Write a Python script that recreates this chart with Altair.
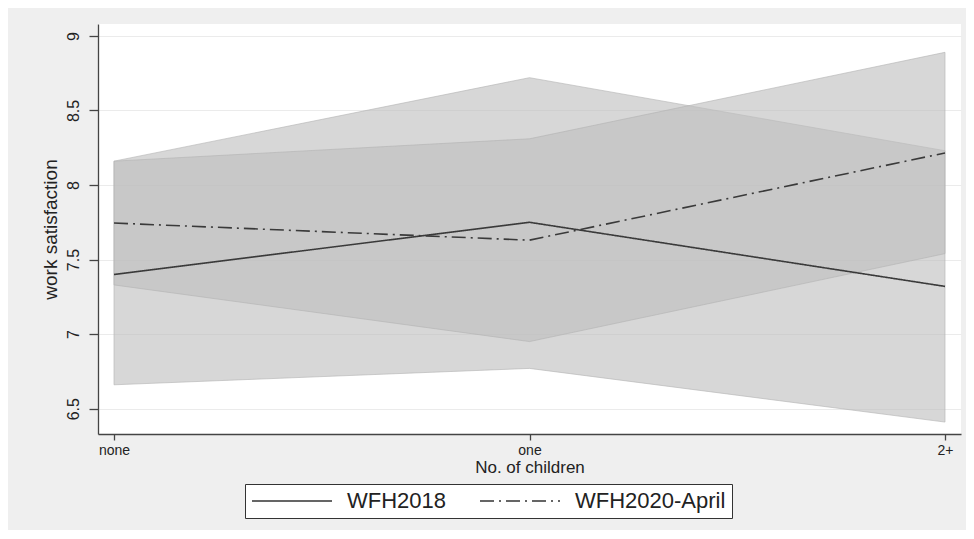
import altair as alt
import pandas as pd

# ---- data ----
categories = ["none", "one", "2+"]
series_names = ["WFH2018", "WFH2020-April"]

wfh2018_mean = [7.40, 7.75, 7.32]
wfh2018_lo = [6.66, 6.77, 6.41]
wfh2018_hi = [8.16, 8.72, 8.23]

wfh2020_mean = [7.745, 7.63, 8.215]
wfh2020_lo = [7.33, 6.95, 7.54]
wfh2020_hi = [8.16, 8.31, 8.89]

y_ticks = [6.5, 7, 7.5, 8, 8.5, 9]

rows = []
for name, m, lo, hi in [
    (series_names[0], wfh2018_mean, wfh2018_lo, wfh2018_hi),
    (series_names[1], wfh2020_mean, wfh2020_lo, wfh2020_hi),
]:
    for c, mv, lv, hv in zip(categories, m, lo, hi):
        rows.append({"children": c, "series": name, "mean": mv, "lo": lv, "hi": hv})
df = pd.DataFrame(rows)

FONT = "Liberation Sans"

x_enc = alt.X(
    "children:O",
    sort=categories,
    scale=alt.Scale(type="point", domain=categories, padding=0.0385),
    axis=alt.Axis(
        title="No. of children",
        labelAngle=0,
        labelFontSize=14,
        titleFontSize=17,
        titleFontWeight="normal",
        tickSize=6,
        labelPadding=3,
        titlePadding=2,
        grid=False,
    ),
)

y_scale = alt.Scale(domain=[6.33, 9.08], nice=False, zero=False)

bands = (
    alt.Chart(df)
    .mark_area(fill="#bfbfbf", fillOpacity=0.62, stroke="#b3b3b3", strokeOpacity=0.6, strokeWidth=1)
    .encode(
        x=x_enc,
        y=alt.Y(
            "lo:Q",
            scale=y_scale,
            axis=alt.Axis(
                title="work satisfaction",
                values=y_ticks,
                format="~g",
                labelAngle=-90,
                labelAlign="center",
                labelBaseline="bottom",
                labelFontSize=16,
                titleFontSize=19,
                titleFontWeight="normal",
                tickSize=9,
                labelPadding=8,
                titlePadding=5,
                grid=True,
            ),
        ),
        y2="hi:Q",
        detail="series:N",
    )
)

lines = (
    alt.Chart(df)
    .mark_line(color="#3a3a3a", strokeWidth=1.6)
    .encode(
        x=x_enc,
        y=alt.Y("mean:Q", scale=y_scale),
        strokeDash=alt.StrokeDash(
            "series:N",
            scale=alt.Scale(domain=series_names, range=[[1, 0], [14, 5, 2, 5]]),
            legend=alt.Legend(
                title=None,
                orient="none",
                legendX=147,
                legendY=460,
                direction="horizontal",
                symbolType="M-1,0H7",
                symbolSize=400,
                symbolStrokeWidth=1.5,
                symbolStrokeColor="#333333",
                symbolFillColor="transparent",
                labelFont=FONT,
                labelFontSize=22,
                labelColor="#222222",
                labelOffset=74,
                columnPadding=30,
                padding=6,
                strokeColor="#333333",
                fillColor="#ffffff",
                labelLimit=400,
            ),
        ),
    )
)

chart = (
    alt.layer(bands, lines)
    .properties(
        width=863,
        height=410,
        autosize=alt.AutoSizeParams(type="none"),
        padding={"left": 90, "top": 16, "right": 5, "bottom": 96},
        background="#efefef",
    )
    .configure_view(fill="#ffffff", stroke=None)
    .configure_axis(
        labelFont=FONT,
        titleFont=FONT,
        labelColor="#222222",
        titleColor="#222222",
        domainColor="#444444",
        domainWidth=1.3,
        tickColor="#444444",
        tickWidth=1.3,
        gridColor="#ebebeb",
        gridWidth=1,
    )
)

chart.save("out.html", embed_options={"renderer": "svg", "actions": False})
